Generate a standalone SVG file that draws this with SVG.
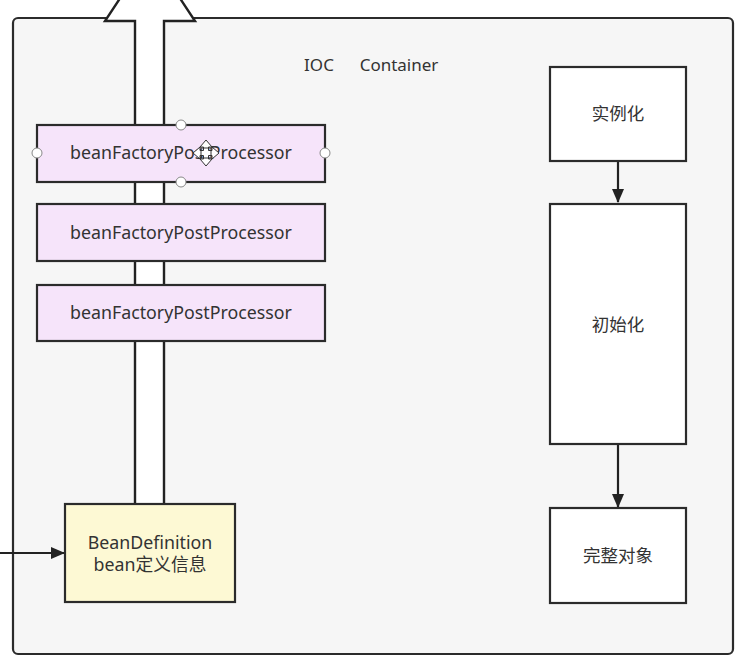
<svg xmlns="http://www.w3.org/2000/svg" width="739" height="660" viewBox="0 0 739 660">
<defs>
<marker id="ah" markerWidth="14" markerHeight="14" viewBox="0 0 14 14" refX="13" refY="7" orient="auto" markerUnits="userSpaceOnUse">
<path d="M0,1 L14,7 L0,13 Z" fill="#222"/>
</marker>
<style>
.box{stroke:#2b2b2b;stroke-width:2.2}
.t{font-family:"Noto Sans","Noto Sans CJK SC",sans-serif;font-size:17.8px;fill:#333;text-anchor:middle}
.c{font-family:"Noto Sans CJK SC",sans-serif;font-size:17.5px;fill:#333;text-anchor:middle}
.conn{stroke:#222;stroke-width:2.2;fill:none}
.h{fill:#fff;stroke:#888;stroke-width:1}
</style>
</defs>
<g id="container">
<rect x="13" y="18" width="720" height="636" rx="5" fill="#f6f6f6" stroke="#2b2b2b" stroke-width="2.2"/>
<text class="t" x="373" y="71" style="font-size:17px"><tspan x="319">IOC</tspan><tspan x="399">Container</tspan></text>
</g>
<g id="connectors">
<polygon points="135,505 135,21 105,21 150,-47 195,21 164,21 164,505" fill="#fff" stroke="#222" stroke-width="2.4" stroke-linejoin="miter"/>
<line class="conn" x1="0" y1="553" x2="64" y2="553" marker-end="url(#ah)"/>
<line class="conn" x1="618" y1="162" x2="618" y2="202" marker-end="url(#ah)"/>
<line class="conn" x1="618" y1="445" x2="618" y2="507" marker-end="url(#ah)"/>
</g>
<g id="bfpp1">
<rect class="box" x="37" y="125" width="288" height="57" fill="#f6e4fa"/>
<text class="t" x="181" y="159">beanFactoryPostProcessor</text>
<circle class="h" cx="181" cy="125" r="5"/>
<circle class="h" cx="181" cy="182" r="5"/>
<circle class="h" cx="37" cy="153" r="5"/>
<circle class="h" cx="325" cy="153" r="5"/>
<path d="M206,140 L212,147 L208.5,147 L208.5,150.5 L212,150.5 L212,147 L219,153 L212,159 L212,155.5 L208.5,155.5 L208.5,159 L212,159 L206,166 L200,159 L203.5,159 L203.5,155.5 L200,155.5 L200,159 L193,153 L200,147 L200,150.5 L203.5,150.5 L203.5,147 L200,147 Z" fill="#fff" stroke="#333" stroke-width="1"/>
<rect x="201" y="148" width="10" height="10" fill="none" stroke="#333" stroke-width="1"/>
</g>
<g id="bfpp2">
<rect class="box" x="37" y="204" width="288" height="57" fill="#f6e4fa"/>
<text class="t" x="181" y="239">beanFactoryPostProcessor</text>
</g>
<g id="bfpp3">
<rect class="box" x="37" y="285" width="288" height="56" fill="#f6e4fa"/>
<text class="t" x="181" y="319">beanFactoryPostProcessor</text>
</g>
<g id="beanDefinition">
<rect class="box" x="65" y="504" width="170" height="98" fill="#fdf9d4"/>
<text class="t" x="150" y="549">BeanDefinition</text>
<text class="t" x="150" y="571">bean定义信息</text>
</g>
<g id="instantiate">
<rect class="box" x="550" y="67" width="136" height="94" fill="#fff"/>
<text class="c" x="618" y="120">实例化</text>
</g>
<g id="initialize">
<rect class="box" x="550" y="204" width="136" height="240" fill="#fff"/>
<text class="c" x="618" y="331">初始化</text>
</g>
<g id="complete">
<rect class="box" x="550" y="508" width="136" height="95" fill="#fff"/>
<text class="c" x="618" y="562">完整对象</text>
</g>
</svg>
